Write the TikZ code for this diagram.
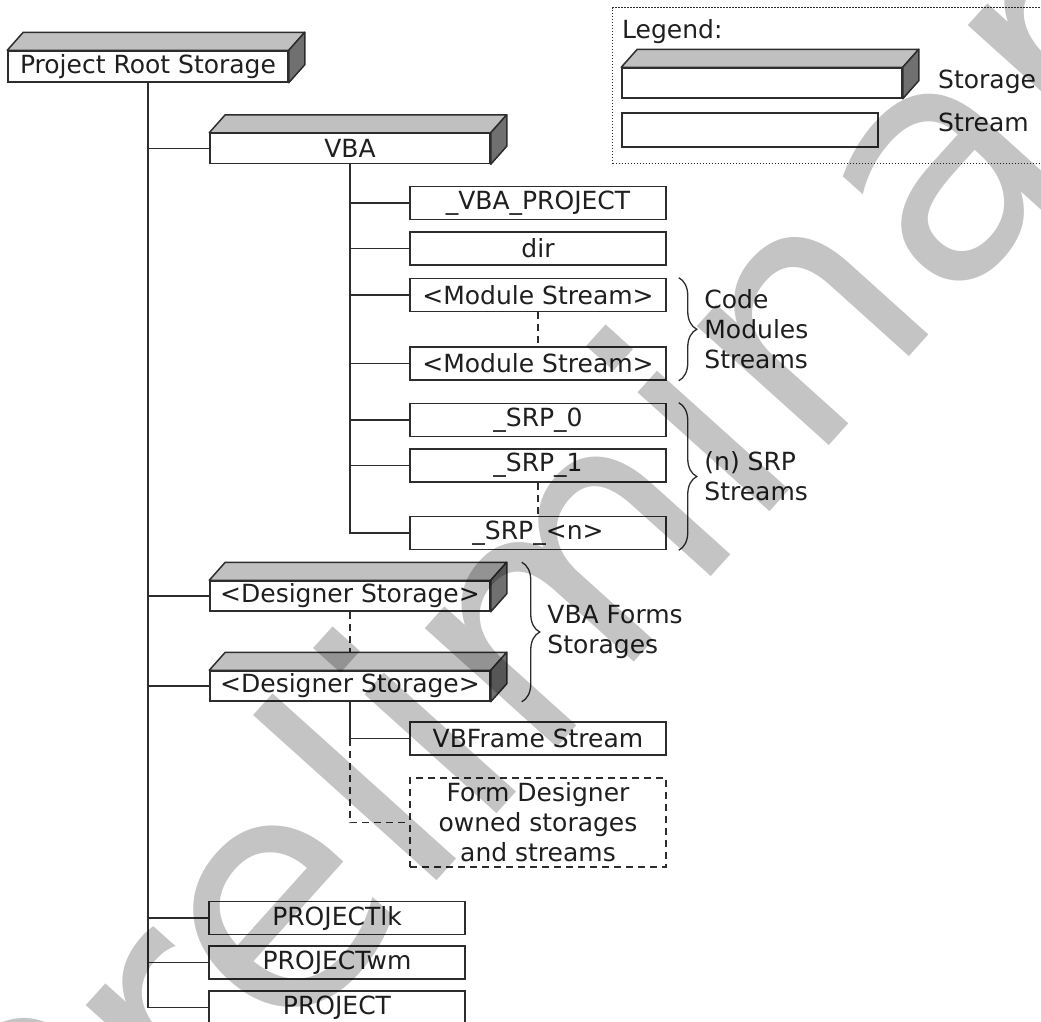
\documentclass[tikz,border=0pt]{standalone}
\usepackage{fontspec}
\setmainfont{DejaVu Sans}
\usetikzlibrary{positioning}
\usetikzlibrary{decorations.pathreplacing}

\definecolor{topgray}{RGB}{192,192,192}
\definecolor{sidegray}{RGB}{112,112,112}
\definecolor{linegray}{RGB}{45,45,45}

\begin{document}
\begin{tikzpicture}[x=1pt,y=-1pt,
    every node/.style={font=\fontsize{25}{30}\selectfont, text=black!88},
    box/.style={draw=linegray, line width=1.5pt, fill=white, inner sep=0pt, minimum height=33pt},
    stream/.style={box, minimum width=256pt},
    storage/.style={box, minimum width=280pt, minimum height=30pt},
    face/.style={draw=linegray, line width=1.5pt, line join=round},
    link/.style={draw=linegray, line width=1.4pt},
    gap/.style={link, dash pattern=on 7pt off 5pt},
    brc/.style={draw=linegray, line width=1.3pt, decorate, decoration={brace, amplitude=18pt}},
    note/.style={anchor=west, align=left, inner sep=0pt, xshift=25pt},
    plain/.style={anchor=west, inner sep=0pt}]
\useasboundingbox (0,0) rectangle (1041,1021);
\clip (0,0) rectangle (1041,1021);

% legend
\node[draw=linegray, line width=1.2pt, dash pattern=on 1.5pt off 1.5pt,
    minimum width=440pt, minimum height=156pt, anchor=north west] (legend) at (612,7) {};
\node[plain] (legtitle) at (622,32) {Legend:};
\node[storage] (legst) at (762,83) {};
\node[stream, minimum height=34pt] (legsm) at (750,130) {};
\node[plain] (legsttxt) at (938,82) {Storage};
\node[plain] (legsmtxt) at (938,122) {Stream};

% storages
\node[storage, minimum height=31pt] (root) at (148,66.5) {Project Root Storage};
\node[storage] (vba) at (350,148.5) {VBA};
\node[storage] (des1) at (350,596) {<Designer Storage>};
\node[storage] (des2) at (350,686) {<Designer Storage>};

% streams under VBA
\node[stream] (vbaproj) at (538,203) {\_VBA\_PROJECT};
\node[stream, below=11pt of vbaproj] (dir) {dir};
\node[stream, below=12pt of dir] (mod1) {<Module Stream>};
\node[stream, below=34pt of mod1] (mod2) {<Module Stream>};
\node[stream, below=22pt of mod2] (srp0) {\_SRP\_0};
\node[stream, below=11pt of srp0] (srp1) {\_SRP\_1};
\node[stream, below=33pt of srp1] (srpn) {\_SRP\_<n>};

% under the designer storage
\node[stream] (vbframe) at (538,738.5) {VBFrame Stream};
\node[stream, minimum height=89pt, align=center, dash pattern=on 7pt off 5pt]
    (formdes) at (538,822.5) {Form Designer\\owned storages\\and streams};

% streams under the root
\node[stream] (projlk) at (337,918) {PROJECTlk};
\node[stream] (projwm) at (337,962.5) {PROJECTwm};
\node[stream] (proj) at (337,1007.5) {PROJECT};

% 3d faces
\foreach \s in {legst,root,vba,des1,des2} {
  \filldraw[face, fill=topgray] (\s.north west) -- ++(16,-18)
    -- ([shift={(16,-18)}]\s.north east) -- (\s.north east) -- cycle;
  \filldraw[face, fill=sidegray] (\s.north east) -- ++(16,-18)
    -- ([shift={(16,-18)}]\s.south east) -- (\s.south east) -- cycle;
}

% tree lines
\draw[link] (root.south) |- (proj.west);
\foreach \n in {vba,des1,des2,projlk,projwm}
  \draw[link] (root.south |- \n.west) -- (\n.west);
\draw[link] (vba.south) |- (srpn.west);
\foreach \n in {vbaproj,dir,mod1,mod2,srp0,srp1}
  \draw[link] (vba.south |- \n.west) -- (\n.west);
\draw[gap] (mod1) -- (mod2);
\draw[gap] (srp1) -- (srpn);
\draw[gap] (des1.south) -- ([yshift=18pt]des2.north);
\draw[link] (des2.south) |- (vbframe.west);
\draw[gap] (des2.south |- vbframe.west) |- (formdes.west);

% braces
\draw[brc] ([xshift=12pt]mod1.north east) -- node[note] {Code\\Modules\\Streams}
    ([xshift=12pt]mod2.south east);
\draw[brc] ([xshift=12pt]srp0.north east) -- node[note] {(n) SRP\\Streams}
    ([xshift=12pt]srpn.south east);
\draw[brc] ([shift={(31,-18)}]des1.north east) -- node[note] {VBA Forms\\Storages}
    ([xshift=31pt]des2.south east);

% watermark
\node[font=\fontsize{325}{325}\selectfont, text=black, text opacity=0.23, rotate=48]
    (wm) at (618,546) {Preliminary};
\end{tikzpicture}
\end{document}
